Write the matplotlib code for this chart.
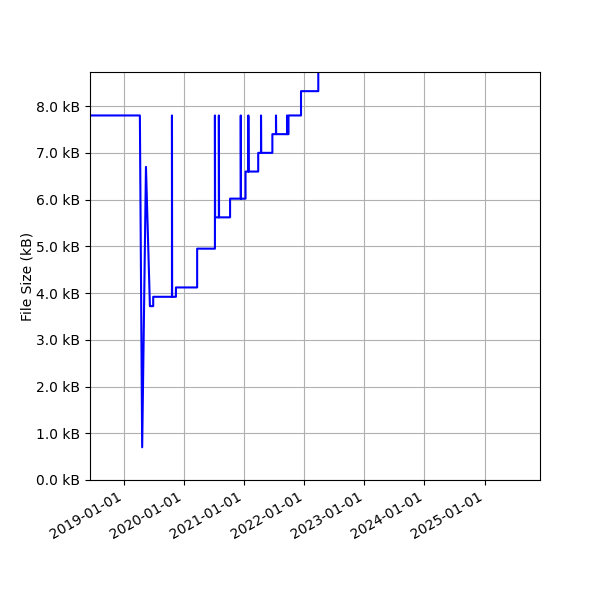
import numpy as np
import pandas as pd
import matplotlib
matplotlib.use('Agg')
import matplotlib.pyplot as plt
import matplotlib.dates as mdates
from matplotlib.ticker import FuncFormatter

# file size history (kB); step corners are listed explicitly
dates = [
    '2018-06-09', '2019-04-08', '2019-04-22', '2019-05-15', '2019-06-08',
    '2019-06-28', '2019-06-28', '2019-10-20', '2019-10-20', '2019-10-21',
    '2019-11-13', '2019-11-13', '2020-03-21', '2020-03-21', '2020-07-07',
    '2020-07-07', '2020-07-08', '2020-07-31', '2020-07-31', '2020-08-01',
    '2020-10-07', '2020-10-07', '2020-12-11', '2020-12-11', '2020-12-12',
    '2021-01-09', '2021-01-09', '2021-01-26', '2021-01-26', '2021-01-27',
    '2021-03-27', '2021-03-27', '2021-04-13', '2021-04-13', '2021-04-14',
    '2021-06-21', '2021-06-21', '2021-07-13', '2021-07-13', '2021-07-14',
    '2021-09-18', '2021-09-18', '2021-09-19', '2021-09-27', '2021-09-27',
    '2021-12-12', '2021-12-12', '2022-03-27', '2022-03-27',
]
sizes_kb = [
    7.8, 7.8, 0.7, 6.7, 3.72,
    3.72, 3.92, 3.92, 7.8, 3.92,
    3.92, 4.12, 4.12, 4.95, 4.95,
    7.8, 5.62, 5.62, 7.8, 5.62,
    5.62, 6.02, 6.02, 7.8, 6.02,
    6.02, 6.6, 6.6, 7.8, 6.6,
    6.6, 7.0, 7.0, 7.8, 7.0,
    7.0, 7.4, 7.4, 7.8, 7.4,
    7.4, 7.8, 7.4, 7.4, 7.8,
    7.8, 8.32, 8.32, 9.2,
]
x_start = '2018-06-09'
x_end = '2025-12-03'
y_max = 8.73

dates = pd.to_datetime(dates)

fig, ax = plt.subplots(figsize=(6, 6), dpi=100)
ax.plot(dates, sizes_kb, color='blue', linewidth=1.5)

ax.set_xlim(pd.Timestamp(x_start), pd.Timestamp(x_end))
ax.set_ylim(0, y_max)
ax.set_yticks(np.arange(0, 9, 1.0))
ax.yaxis.set_major_formatter(FuncFormatter(lambda v, p: f'{v:.1f} kB'))
ax.xaxis.set_major_locator(mdates.YearLocator())
ax.xaxis.set_major_formatter(mdates.DateFormatter('%Y-%m-%d'))
ax.set_ylabel('File Size (kB)', labelpad=1)
ax.grid(True)

fig.autofmt_xdate()
fig.subplots_adjust(left=0.15, right=0.9, top=0.88, bottom=0.2)
fig.savefig('out.png', dpi=100)
